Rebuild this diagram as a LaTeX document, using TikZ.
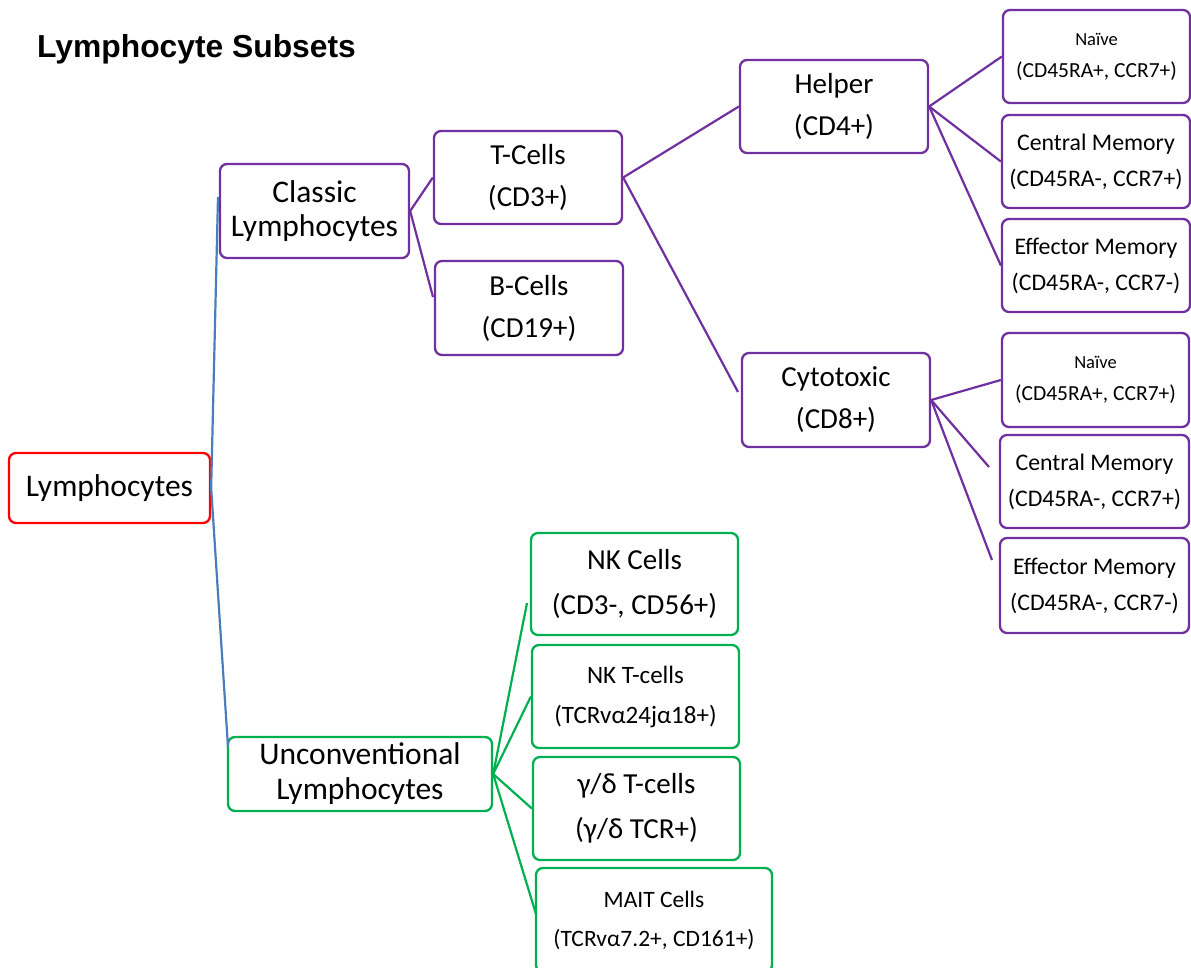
\documentclass[tikz,border=0pt]{standalone}
\usepackage{fontspec}
\setmainfont{Carlito}
\newfontfamily\titlefont{Liberation Sans}
\definecolor{mypurple}{HTML}{7030A0}
\definecolor{mygreen}{HTML}{00B050}
\definecolor{myred}{HTML}{FF0000}
\definecolor{myblue}{HTML}{4A7EBB}
\newcommand{\fsz}[2]{\fontsize{#1}{#2}\selectfont}
\begin{document}
\begin{tikzpicture}[x=1pt,y=-1pt,
  box/.style={draw, rounded corners=7pt, line width=2.3pt, align=center, inner sep=0pt},
  pbox/.style={box, draw=mypurple},
  gbox/.style={box, draw=mygreen},
  rbox/.style={box, draw=myred},
  bigtxt/.style={font=\fsz{31.5}{34}},
  midtxt/.style={font=\fsz{29}{42}},
  memtxt/.style={font=\fsz{23.8}{36}},
  naivetxt/.style={font=\fsz{21.5}{32}},
  plink/.style={draw=mypurple, line width=2.2pt},
  glink/.style={draw=mygreen, line width=2.2pt},
  blink/.style={draw=myblue, line width=2.2pt}
]
\useasboundingbox (0,0) rectangle (1191,968);

% title
\node[anchor=base west, inner sep=0pt, font=\titlefont\bfseries\fsz{31.8}{36}] (title) at (37,58) {Lymphocyte Subsets};

% root
\node[rbox, bigtxt, minimum width=201pt, minimum height=70pt] (lym) at (109.5,488) {Lymphocytes};

% classic branch
\node[pbox, bigtxt, minimum width=189pt, minimum height=94pt] (classic) at (314.5,211) {Classic\\Lymphocytes};
\node[pbox, midtxt, minimum width=188pt, minimum height=93pt] (tcells) at (528,177.5) {T-Cells\\(CD3+)};
\node[pbox, midtxt, minimum width=188pt, minimum height=94pt] (bcells) at (529,308) {B-Cells\\(CD19+)};
\node[pbox, midtxt, minimum width=188pt, minimum height=93pt] (helper) at (834,106.5) {Helper\\(CD4+)};
\node[pbox, midtxt, minimum width=188pt, minimum height=94pt] (cyto) at (836,400) {Cytotoxic\\(CD8+)};

% helper subsets
\node[pbox, naivetxt, minimum width=187pt, minimum height=93pt] (hn) at (1096.5,56.5) {{\fontsize{18.5}{32}\selectfont Naïve}\\(CD45RA+, CCR7+)};
\node[pbox, memtxt, minimum width=188pt, minimum height=93pt] (hcm) at (1096,161.5) {Central Memory\\(CD45RA-, CCR7+)};
\node[pbox, memtxt, minimum width=188pt, minimum height=93pt] (hem) at (1096,265.5) {Effector Memory\\(CD45RA-, CCR7-)};

% cytotoxic subsets
\node[pbox, naivetxt, minimum width=187pt, minimum height=94pt] (cn) at (1095.5,380) {{\fontsize{18.5}{32}\selectfont Naïve}\\(CD45RA+, CCR7+)};
\node[pbox, memtxt, minimum width=189pt, minimum height=93pt] (ccm) at (1094.5,481.5) {Central Memory\\(CD45RA-, CCR7+)};
\node[pbox, memtxt, minimum width=189pt, minimum height=95pt] (cem) at (1094.5,585.5) {Effector Memory\\(CD45RA-, CCR7-)};

% unconventional branch
\node[gbox, font=\fsz{31.5}{35}, minimum width=264pt, minimum height=74pt] (uncon) at (360,774) {Unconventional\\Lymphocytes};
\node[gbox, font=\fsz{29}{45}, minimum width=207pt, minimum height=102pt] (nk) at (634.5,584) {NK Cells\\(CD3-, CD56+)};
\node[gbox, font=\fsz{25}{40}, minimum width=207pt, minimum height=103pt] (nkt) at (635.5,696.5) {NK T-cells\\(TCRvα24jα18+)};
\node[gbox, font=\fsz{29}{45}, minimum width=207pt, minimum height=103pt] (gd) at (636.5,808.5) {γ/δ T-cells\\(γ/δ TCR+)};
\node[gbox, font=\fsz{23.5}{39}, minimum width=236pt, minimum height=104pt] (mait) at (654,920) {MAIT Cells\\(TCRvα7.2+, CD161+)};

% free ends of connectors
\coordinate (eClassic) at (218,197);
\coordinate (eUncon) at (228,747);
\coordinate (eB) at (433,297);
\coordinate (eCyto) at (738,392);
\coordinate (eCcm) at (989,467);
\coordinate (eCem) at (992,560);
\coordinate (eNk) at (527,603);
\coordinate (eMait) at (536,914);

% connectors
\draw[blink] (lym.east) -- (eClassic);
\draw[blink] (lym.east) -- (eUncon);

\draw[plink] (classic.east) -- (tcells.west);
\draw[plink] (classic.east) -- (eB);
\draw[plink] (tcells.east) -- (helper.west);
\draw[plink] (tcells.east) -- (eCyto);
\draw[plink] (helper.east) -- (hn.west);
\draw[plink] (helper.east) -- (hcm.west);
\draw[plink] (helper.east) -- (hem.west);
\draw[plink] (cyto.east) -- (cn.west);
\draw[plink] (cyto.east) -- (eCcm);
\draw[plink] (cyto.east) -- (eCem);

\draw[glink] (uncon.east) -- (eNk);
\draw[glink] (uncon.east) -- (nkt.west);
\draw[glink] (uncon.east) -- (gd.west);
\draw[glink] (uncon.east) -- (eMait);
\end{tikzpicture}
\end{document}
